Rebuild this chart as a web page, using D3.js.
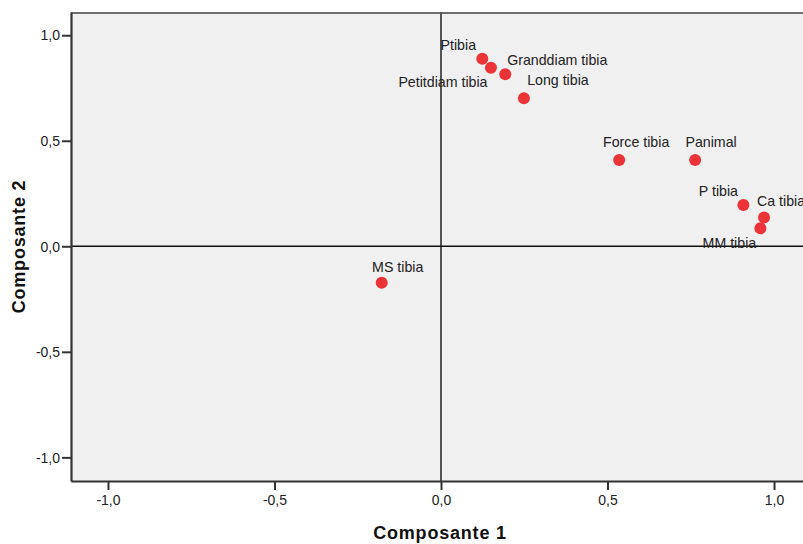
<!DOCTYPE html>
<html><head><meta charset="utf-8">
<script src="https://cdn.jsdelivr.net/npm/d3@7"></script>
<style>body{margin:0;background:#fff}svg{display:block}text{font-family:"Liberation Sans",Arial,sans-serif}</style>
</head><body><svg id="c" width="803" height="544"></svg>
<script>
const labels = ["Ptibia","Petitdiam tibia","Granddiam tibia","Long tibia","Force tibia","Panimal","P tibia","Ca tibia","MM tibia","MS tibia"];
const comp1 = [0.124,0.150,0.193,0.249,0.535,0.763,0.908,0.970,0.959,-0.178];
const comp2 = [0.888,0.846,0.815,0.701,0.409,0.409,0.196,0.136,0.085,-0.173];
const tickValues = [-1.0,-0.5,0.0,0.5,1.0];
const tickLabels = ["-1,0","-0,5","0,0","0,5","1,0"];
// label placement offsets (px) relative to each point
const labelDx = [-24,-48,52,34,17,16,-25,17,-31,16];
const labelDy = [-9,19,-9,-13,-13,-13,-9,-12,20,-11];

const svg = d3.select("#c");
const L=71, T=12, R=811, B=481;
const x = d3.scaleLinear().domain([-1.111,1.111]).range([L,R]);
const y = d3.scaleLinear().domain([-1.112,1.110]).range([B,T]);

svg.append("rect").attr("x",L).attr("y",T).attr("width",R-L).attr("height",B-T).attr("fill","#f0f0f0");
svg.append("line").attr("x1",L).attr("x2",R).attr("y1",T+1).attr("y2",T+1).attr("stroke","#6e6e6e").attr("stroke-width",2);

svg.append("line").attr("x1",x(0)).attr("x2",x(0)).attr("y1",T).attr("y2",B).attr("stroke","#555").attr("stroke-width",2);
svg.append("line").attr("x1",L).attr("x2",R).attr("y1",y(0)).attr("y2",y(0)).attr("stroke","#111").attr("stroke-width",1.6);

const fmt = d => tickLabels[tickValues.indexOf(d)];
const xa = svg.append("g").attr("transform",`translate(0,${B})`)
  .call(d3.axisBottom(x).tickValues(tickValues).tickFormat(fmt).tickSize(9).tickSizeOuter(0).tickPadding(5));
const ya = svg.append("g").attr("transform",`translate(${L},0)`)
  .call(d3.axisLeft(y).tickValues(tickValues).tickFormat(fmt).tickSize(9).tickSizeOuter(0).tickPadding(2));
[xa,ya].forEach(a=>{
  a.select(".domain").attr("stroke","#333").attr("stroke-width",2.2);
  a.selectAll(".tick line").attr("stroke","#333").attr("stroke-width",2);
  a.selectAll(".tick text").attr("fill","#222").style("font-size","14px");
});
ya.selectAll(".tick text").attr("dy","0.34em");

const pts = labels.map((l,i)=>({l,c1:comp1[i],c2:comp2[i],dx:labelDx[i],dy:labelDy[i]}));
svg.append("g").selectAll("circle").data(pts).join("circle")
  .attr("cx",d=>x(d.c1)).attr("cy",d=>y(d.c2)).attr("r",6).attr("fill","#ec3338");
svg.append("g").selectAll("text").data(pts).join("text")
  .attr("x",d=>x(d.c1)+d.dx).attr("y",d=>y(d.c2)+d.dy).attr("text-anchor","middle")
  .style("font-size","14.2px").attr("fill","#222").text(d=>d.l);

svg.append("text").attr("x",(L+R)/2 - 1).attr("y",539).attr("text-anchor","middle")
  .style("font-size","18px").style("font-weight","bold").style("letter-spacing","0.8px").attr("fill","#111").text("Composante 1");
svg.append("text").attr("transform",`translate(25,${(T+B)/2}) rotate(-90)`).attr("text-anchor","middle")
  .style("font-size","18px").style("font-weight","bold").style("letter-spacing","0.8px").attr("fill","#111").text("Composante 2");
</script></body></html>
